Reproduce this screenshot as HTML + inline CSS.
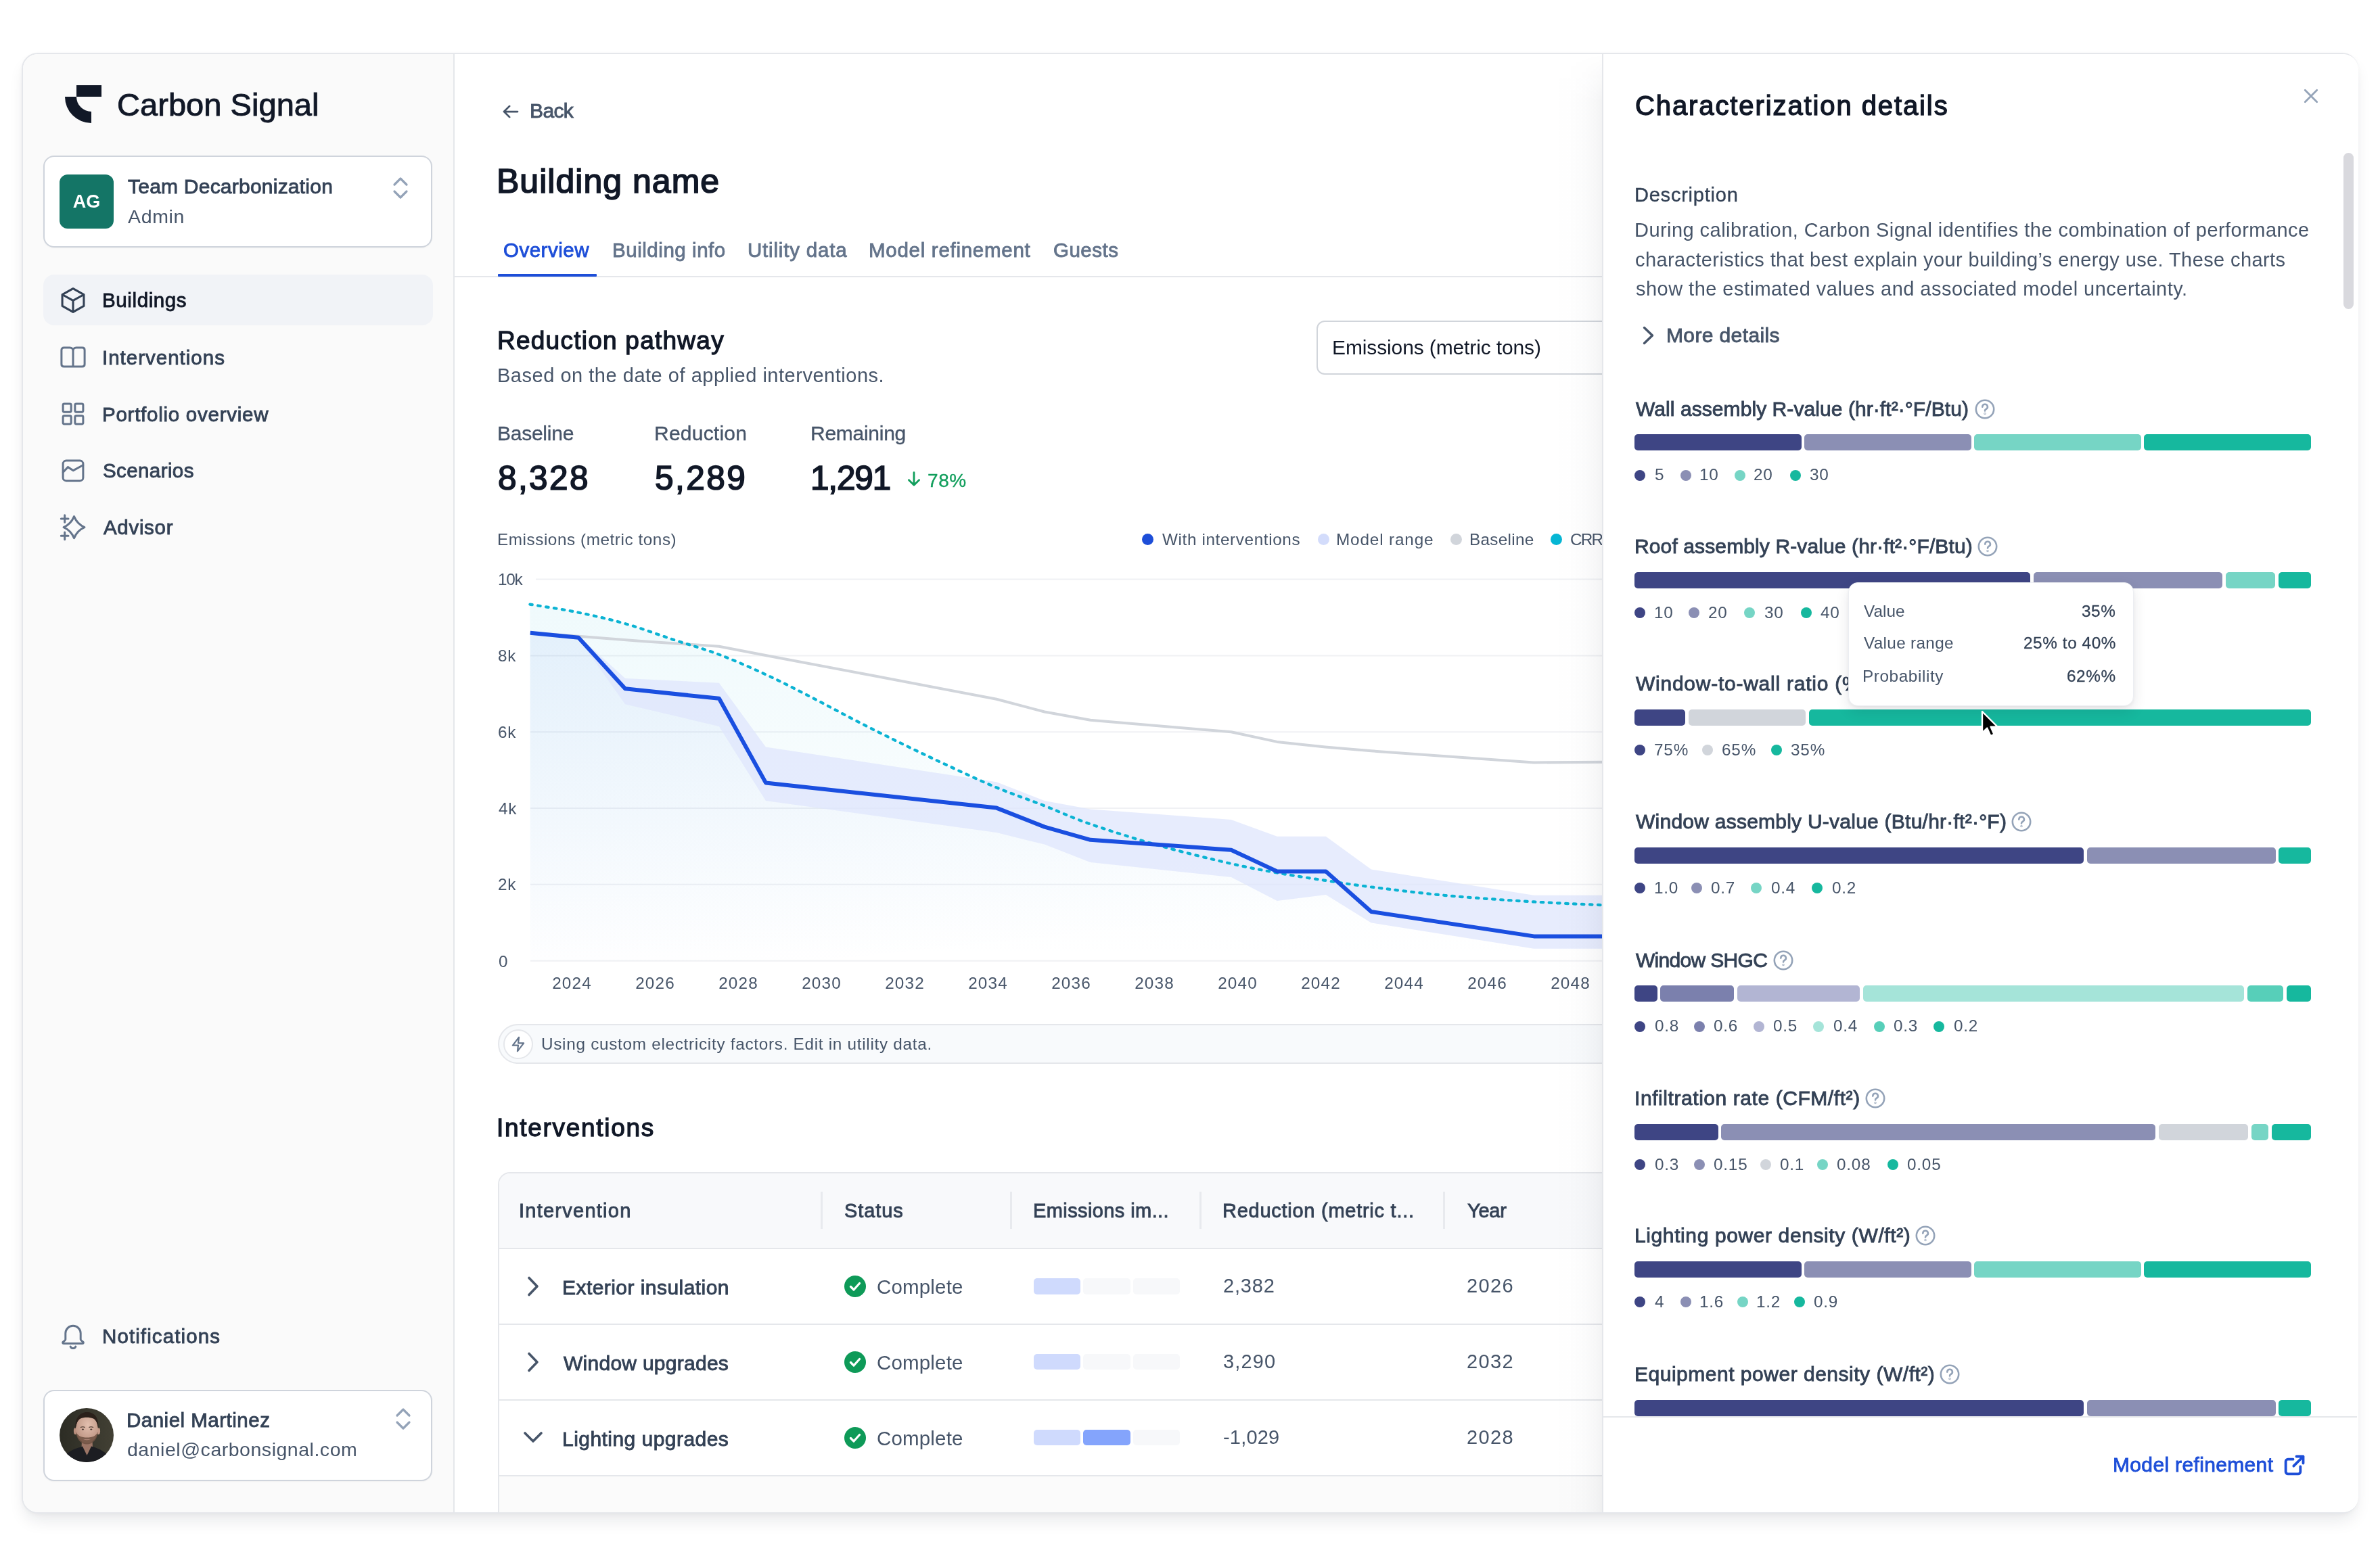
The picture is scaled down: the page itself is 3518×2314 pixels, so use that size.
<!DOCTYPE html><html><head><meta charset="utf-8"><title>Carbon Signal</title><style>
html,body{margin:0;padding:0;background:#fff;}
body{width:3518px;height:2314px;position:relative;overflow:hidden;font-family:"Liberation Sans", Arial, sans-serif;}
.t{position:absolute;white-space:nowrap;will-change:transform;}
@media (max-width:2000px){html{zoom:0.5;}}
</style></head><body>
<div style="position:absolute;left:32px;top:78px;width:3450px;height:2156px;border:2px solid #e5e7eb;border-radius:24px;background:#fff;box-shadow:0 14px 26px -6px rgba(15,23,42,0.11),0 2px 6px rgba(15,23,42,0.03);"></div>
<div style="position:absolute;left:34px;top:80px;width:636px;height:2156px;background:#fafafa;border-right:2px solid #e5e7eb;border-radius:22px 0 0 22px;"></div>
<svg style="position:absolute;left:0;top:0" width="200" height="200" viewBox="0 0 200 200"><path fill="#111827" d="M96 143 A39 39 0 0 0 135 182 L135 165 A22 22 0 0 1 113 143 Z M113 126 H150 V143 H113 Z"/></svg>
<div style="position:absolute;left:64px;top:230px;width:571px;height:132px;border:2px solid #cfd4dc;border-radius:16px;background:#fff;box-shadow:0 1px 2px rgba(0,0,0,0.04);"></div>
<div style="position:absolute;left:88px;top:258px;width:80px;height:80px;border-radius:12px;background:#147566;"></div>
<svg style="position:absolute;left:578px;top:258px" width="28" height="40" viewBox="0 0 28 40"><path d="M5 15 L14 6 L23 15 M5 25 L14 34 L23 25" fill="none" stroke="#94a3b8" stroke-width="3.2" stroke-linecap="round" stroke-linejoin="round"/></svg>
<div style="position:absolute;left:64px;top:406px;width:576px;height:75px;border-radius:16px;background:#f1f3f7;"></div>
<svg style="position:absolute;left:87px;top:423px" width="42" height="42" viewBox="0 0 24 24" fill="none" stroke="#334155" stroke-width="1.75" stroke-linecap="round" stroke-linejoin="round"><path d="M12 2.1 L21.1 7.2 V16.8 L12 21.9 L2.9 16.8 V7.2 Z"/><path d="M3.1 7.3 L12 12.2 L20.9 7.3 M12 12.2 V21.7"/></svg>
<svg style="position:absolute;left:89px;top:509px" width="38" height="38" viewBox="0 0 24 24" fill="none" stroke="#64748b" stroke-width="1.9" stroke-linecap="round" stroke-linejoin="round"><path d="M12 6.2 C12 4.4 10.8 3.2 9 3.2 H3.4 C2.1 3.2 1.2 4.1 1.2 5.4 V18.6 C1.2 19.9 2.1 20.8 3.4 20.8 H20.6 C21.9 20.8 22.8 19.9 22.8 18.6 V5.4 C22.8 4.1 21.9 3.2 20.6 3.2 H15 C13.2 3.2 12 4.4 12 6.2 V20.6"/></svg>
<svg style="position:absolute;left:89px;top:593px" width="38" height="38" viewBox="0 0 24 24" fill="none" stroke="#64748b" stroke-width="1.9" stroke-linecap="round" stroke-linejoin="round"><rect x="2.6" y="2.6" width="7.6" height="7.6" rx="1.2"/><rect x="13.8" y="2.6" width="7.6" height="7.6" rx="1.2"/><rect x="2.6" y="13.8" width="7.6" height="7.6" rx="1.2"/><rect x="13.8" y="13.8" width="7.6" height="7.6" rx="1.2"/></svg>
<svg style="position:absolute;left:89px;top:677px" width="38" height="38" viewBox="0 0 24 24" fill="none" stroke="#64748b" stroke-width="1.9" stroke-linecap="round" stroke-linejoin="round"><rect x="2.6" y="2.6" width="18.8" height="18.8" rx="3"/><path d="M2.7 13.4 L7.2 8.6 L12.2 11.8 L21.3 6.8"/></svg>
<svg style="position:absolute;left:88px;top:760px" width="40" height="40" viewBox="0 0 24 24" fill="none" stroke="#64748b" stroke-width="1.8" stroke-linecap="round" stroke-linejoin="round"><path d="M12.9,2.20 Q15.67,8.92 22.14,11.8 Q15.67,14.68 12.9,21.40 Q10.13,14.68 3.66,11.8 Q10.13,8.92 12.9,2.20 Z"/><path d="M4.6 1.0 V7.4 M1.4 4.2 H7.8 M4.6 16.2 V22.6 M1.4 19.4 H7.8"/></svg>
<svg style="position:absolute;left:87px;top:1954px" width="42" height="42" viewBox="0 0 24 24" fill="none" stroke="#64748b" stroke-width="1.7" stroke-linecap="round" stroke-linejoin="round"><path d="M5.6 15.2 V10 A6.4 6.4 0 0 1 18.4 10 V15.2 C18.4 16.2 20 16.6 20.6 17.4 C21 18 20.6 18.6 19.8 18.6 H4.2 C3.4 18.6 3 18 3.4 17.4 C4 16.6 5.6 16.2 5.6 15.2 Z"/><path d="M9.8 21.2 A2.4 2.4 0 0 0 14.2 21.2"/></svg>
<div style="position:absolute;left:64px;top:2055px;width:571px;height:131px;border:2px solid #cfd4dc;border-radius:16px;background:#fff;box-shadow:0 1px 2px rgba(0,0,0,0.04);"></div>
<svg style="position:absolute;left:88px;top:2082px" width="80" height="80" viewBox="0 0 80 80">
<defs><clipPath id="avc"><circle cx="40" cy="40" r="40"/></clipPath><linearGradient id="avbg" x1="0" y1="0" x2="1" y2="0"><stop offset="0" stop-color="#2c2c24"/><stop offset="1" stop-color="#424034"/></linearGradient>
<radialGradient id="skin" cx="0.55" cy="0.35" r="0.7"><stop offset="0" stop-color="#e2bfae"/><stop offset="1" stop-color="#b88e7c"/></radialGradient></defs>
<g clip-path="url(#avc)"><rect width="80" height="80" fill="url(#avbg)"/>
<path d="M33 46 L32.5 60 L40.5 70 L49 60 L48.5 46 Z" fill="#9c7566"/>
<path d="M6 80 L9 70 C14 63 23 60 30 58 L34 56.5 L40.5 70 L47 56.5 L52 58 C60 61 68 65 72 71 L76 80 Z" fill="#1c1d22"/>
<ellipse cx="23.5" cy="34" rx="2.6" ry="5" fill="#b98f7d"/><ellipse cx="57.5" cy="34" rx="2.6" ry="5" fill="#c49a88"/>
<ellipse cx="40.5" cy="31" rx="16.5" ry="20.5" fill="url(#skin)"/>
<path d="M24.3 35 C24.8 46 32 53.5 40.5 53.5 C49 53.5 56.2 46 56.7 35 C54 41.5 48.5 43.5 40.5 43.5 C32.5 43.5 27 41.5 24.3 35 Z" fill="#6f5142" opacity="0.85"/>
<path d="M34.5 45.8 Q40.5 48.5 46.5 45.8 Q40.5 47 34.5 45.8 Z" fill="#c99a8c"/>
<path d="M23.6 31 C22 15 30 6 40.5 6 C51 6 58.5 13 57.2 31 C56 23 54.5 17.5 50 15.5 C44 13 36 13 31 15.5 C26.5 17.5 25 23 23.6 31 Z" fill="#2a201a"/>
<path d="M31 28.5 Q34.5 27 37.5 28.5 M43.5 28.5 Q46.5 27 50 28.5" stroke="#3a2a22" stroke-width="1.2" fill="none"/>
<ellipse cx="34.4" cy="31.5" rx="1.6" ry="0.9" fill="#4b3a33"/><ellipse cx="46.8" cy="31.5" rx="1.6" ry="0.9" fill="#4b3a33"/>
</g></svg>
<svg style="position:absolute;left:582px;top:2078px" width="28" height="40" viewBox="0 0 28 40"><path d="M5 15 L14 6 L23 15 M5 25 L14 34 L23 25" fill="none" stroke="#94a3b8" stroke-width="3.2" stroke-linecap="round" stroke-linejoin="round"/></svg>
<svg style="position:absolute;left:740px;top:150px" width="30" height="30" viewBox="0 0 24 24" fill="none" stroke="#475569" stroke-width="2.2" stroke-linecap="round" stroke-linejoin="round"><path d="M20 12 H4 M10.5 5.5 L4 12 L10.5 18.5"/></svg>
<div style="position:absolute;left:672px;top:408px;width:1700px;height:2px;background:#e5e7eb;"></div>
<div style="position:absolute;left:736px;top:405px;width:146px;height:4px;background:#1d4ed8;border-radius:1px;"></div>
<div style="position:absolute;left:1946px;top:474px;width:600px;height:76px;border:2px solid #d1d5db;border-radius:12px;background:#fff;"></div>
<svg style="position:absolute;left:1337px;top:694px" width="28" height="28" viewBox="0 0 24 24" fill="none" stroke="#119e5c" stroke-width="2.4" stroke-linecap="round" stroke-linejoin="round"><path d="M12 4 V20 M5.5 13.5 L12 20 L18.5 13.5"/></svg>
<div style="position:absolute;left:1687.5px;top:788.5px;width:17px;height:17px;border-radius:50%;background:#1d4ed8;"></div>
<div style="position:absolute;left:1947.5px;top:788.5px;width:17px;height:17px;border-radius:50%;background:#d3dcfb;"></div>
<div style="position:absolute;left:2143.5px;top:788.5px;width:17px;height:17px;border-radius:50%;background:#d1d5db;"></div>
<div style="position:absolute;left:2291.5px;top:788.5px;width:17px;height:17px;border-radius:50%;background:#06b6d4;"></div>
<svg style="position:absolute;left:672px;top:800px" width="1700" height="700" viewBox="672 800 1700 700">
<defs>
<linearGradient id="gb" x1="0" y1="0" x2="0.35" y2="1"><stop offset="0" stop-color="#3b6fe8" stop-opacity="0.075"/><stop offset="1" stop-color="#3b6fe8" stop-opacity="0.0"/></linearGradient>
<linearGradient id="gc" x1="0" y1="0" x2="0" y2="1"><stop offset="0" stop-color="#22b8d8" stop-opacity="0.07"/><stop offset="1" stop-color="#22b8d8" stop-opacity="0.0"/></linearGradient>
</defs>
<line x1="792" x2="2372" y1="856.5" y2="856.5" stroke="#f0f1f4" stroke-width="2"/><line x1="784" x2="2372" y1="969.6" y2="969.6" stroke="#f0f1f4" stroke-width="2"/><line x1="784" x2="2372" y1="1082.3" y2="1082.3" stroke="#f0f1f4" stroke-width="2"/><line x1="784" x2="2372" y1="1195" y2="1195" stroke="#f0f1f4" stroke-width="2"/><line x1="784" x2="2372" y1="1307.7" y2="1307.7" stroke="#f0f1f4" stroke-width="2"/><line x1="784" x2="2372" y1="1420.8" y2="1420.8" stroke="#f0f1f4" stroke-width="2"/>
<path d="M783.4,893.6 C795.2,895.6 830.5,900.6 854.0,905.4 C877.5,910.2 901.0,915.5 924.5,922.2 C948.0,928.9 972.1,938.1 995.1,945.7 C1018.1,953.3 1039.4,958.9 1062.4,967.6 C1085.4,976.3 1110.0,987.2 1133.0,997.8 C1156.0,1008.4 1177.8,1019.9 1200.2,1031.4 C1222.6,1042.9 1245.0,1055.2 1267.4,1066.7 C1289.8,1078.2 1312.2,1089.4 1334.6,1100.3 C1357.0,1111.2 1378.8,1121.6 1401.8,1132.3 C1424.8,1143.0 1448.9,1154.4 1472.4,1164.2 C1495.9,1174.0 1519.8,1182.0 1543.0,1191.1 C1566.2,1200.1 1583.4,1208.7 1611.8,1218.5 C1640.2,1228.3 1678.6,1240.5 1713.3,1250.2 C1748.0,1260.0 1790.8,1270.3 1819.9,1277.0 C1849.0,1283.7 1864.5,1286.3 1887.8,1290.5 C1911.1,1294.7 1936.7,1298.5 1959.9,1302.0 C1983.1,1305.5 1997.7,1307.9 2026.9,1311.5 C2056.1,1315.1 2094.9,1320.1 2135.0,1323.8 C2175.1,1327.5 2227.8,1331.0 2267.3,1333.4 C2306.8,1335.8 2354.6,1337.6 2372.0,1338.4 L2372,1420.8 L783.8,1420.8 Z" fill="url(#gc)"/>
<path d="M783.8,935.8 L855.1,942.7 L924.1,1018.3 L1062.9,1032.8 L1131.9,1157.4 L1473.0,1194.6 L1544.0,1222.6 L1611.8,1241.8 L1819.9,1256.7 L1887.8,1288.5 L1959.9,1288.5 L2026.9,1348.0 L2267.3,1384.4 L2372.0,1384.4 L2372,1420.8 L783.8,1420.8 Z" fill="url(#gb)"/>
<path d="M855.1,940.4 L924.1,1003.0 L1062.9,1009.8 L1131.9,1104.5 L1473.0,1156.3 L1544.0,1184.0 L1611.8,1196.5 L1819.9,1211.9 L1887.8,1236.8 L1959.9,1236.8 L2026.9,1285.5 L2267.3,1323.8 L2372.0,1323.8 L2372.0,1402.8 L2267.3,1402.8 L2026.9,1364.4 L1959.9,1323.0 L1887.8,1331.9 L1819.9,1297.0 L1611.8,1275.1 L1544.0,1248.6 L1473.0,1231.0 L1131.9,1183.9 L1062.9,1073.9 L924.1,1041.3 L855.1,944.0 Z" fill="#dfe6fc" fill-opacity="0.75"/>
<polyline points="783.8,935.5 855.1,940.7 948.0,948.0 1062.9,955.8 1133.0,969.2 1284.2,997.8 1473.0,1033.8 1544.0,1052.5 1611.8,1064.7 1819.9,1082.3 1887.8,1096.9 1958.7,1104.5 2026.9,1110.3 2267.3,1127.5 2372.0,1126.8" fill="none" stroke="#d1d5db" stroke-width="4" stroke-linejoin="round"/>
<path d="M783.4,893.6 C795.2,895.6 830.5,900.6 854.0,905.4 C877.5,910.2 901.0,915.5 924.5,922.2 C948.0,928.9 972.1,938.1 995.1,945.7 C1018.1,953.3 1039.4,958.9 1062.4,967.6 C1085.4,976.3 1110.0,987.2 1133.0,997.8 C1156.0,1008.4 1177.8,1019.9 1200.2,1031.4 C1222.6,1042.9 1245.0,1055.2 1267.4,1066.7 C1289.8,1078.2 1312.2,1089.4 1334.6,1100.3 C1357.0,1111.2 1378.8,1121.6 1401.8,1132.3 C1424.8,1143.0 1448.9,1154.4 1472.4,1164.2 C1495.9,1174.0 1519.8,1182.0 1543.0,1191.1 C1566.2,1200.1 1583.4,1208.7 1611.8,1218.5 C1640.2,1228.3 1678.6,1240.5 1713.3,1250.2 C1748.0,1260.0 1790.8,1270.3 1819.9,1277.0 C1849.0,1283.7 1864.5,1286.3 1887.8,1290.5 C1911.1,1294.7 1936.7,1298.5 1959.9,1302.0 C1983.1,1305.5 1997.7,1307.9 2026.9,1311.5 C2056.1,1315.1 2094.9,1320.1 2135.0,1323.8 C2175.1,1327.5 2227.8,1331.0 2267.3,1333.4 C2306.8,1335.8 2354.6,1337.6 2372.0,1338.4" fill="none" stroke="#0bb3d3" stroke-width="4.2" stroke-dasharray="3.6 8.4" stroke-linecap="round"/>
<polyline points="783.8,935.8 855.1,942.7 924.1,1018.3 1062.9,1032.8 1131.9,1157.4 1473.0,1194.6 1544.0,1222.6 1611.8,1241.8 1819.9,1256.7 1887.8,1288.5 1959.9,1288.5 2026.9,1348.0 2267.3,1384.4 2372.0,1384.4" fill="none" stroke="#1a4fe0" stroke-width="6" stroke-linejoin="round"/>
</svg>
<div style="position:absolute;left:736px;top:1514px;width:1700px;height:55px;border:2px solid #e5e7eb;border-radius:30px;background:#f8fafc;"></div>
<div style="position:absolute;left:744px;top:1522px;width:40px;height:40px;border:2px solid #e5e7eb;border-radius:50%;background:#fff;"></div>
<svg style="position:absolute;left:753px;top:1531px" width="26" height="26" viewBox="0 0 24 24" fill="none" stroke="#64748b" stroke-width="2" stroke-linecap="round" stroke-linejoin="round"><path d="M13 2.5 L4.5 13.5 H12 L11 21.5 L19.5 10.5 H12 Z"/></svg>
<div style="position:absolute;left:736px;top:1733px;width:1700px;height:501px;border:2px solid #e5e7eb;border-bottom:none;border-radius:18px 18px 0 0;background:#fff;overflow:hidden;"><div style="position:absolute;left:0;top:0;right:0;height:110px;background:#f8f9fb;border-bottom:2px solid #e5e7eb;"></div><div style="position:absolute;left:0;top:222px;right:0;height:2px;background:#e5e7eb;"></div><div style="position:absolute;left:0;top:334px;right:0;height:2px;background:#e5e7eb;"></div><div style="position:absolute;left:0;top:446px;right:0;height:200px;background:#fbfbfb;border-top:2px solid #e5e7eb;"></div></div>
<div style="position:absolute;left:1212.5px;top:1762px;width:3px;height:55px;background:#e8eaee;"></div>
<div style="position:absolute;left:1492.5px;top:1762px;width:3px;height:55px;background:#e8eaee;"></div>
<div style="position:absolute;left:1772.5px;top:1762px;width:3px;height:55px;background:#e8eaee;"></div>
<div style="position:absolute;left:2132.5px;top:1762px;width:3px;height:55px;background:#e8eaee;"></div>
<svg style="position:absolute;left:770px;top:1881.9px" width="36" height="40" viewBox="0 0 36 40"><path d="M12 7.5 L24 20 L12 32.5" fill="none" stroke="#475569" stroke-width="3.6" stroke-linecap="round" stroke-linejoin="round"/></svg>
<svg style="position:absolute;left:1247.8px;top:1885.9px" width="32" height="32" viewBox="0 0 32 32"><circle cx="16" cy="16" r="16" fill="#0e9a58"/><path d="M9.5 16.5 L14 21 L22.5 11.5" fill="none" stroke="#fff" stroke-width="3.2" stroke-linecap="round" stroke-linejoin="round"/></svg>
<div style="position:absolute;left:1528px;top:1890.2px;width:69.2px;height:23.4px;border-radius:5px;background:#cfdafd;"></div>
<div style="position:absolute;left:1601.4px;top:1890.2px;width:69.2px;height:23.4px;border-radius:5px;background:#f7f8fa;"></div>
<div style="position:absolute;left:1675.1px;top:1890.2px;width:68.5px;height:23.4px;border-radius:5px;background:#f7f8fa;"></div>
<svg style="position:absolute;left:770px;top:1993.7px" width="36" height="40" viewBox="0 0 36 40"><path d="M12 7.5 L24 20 L12 32.5" fill="none" stroke="#475569" stroke-width="3.6" stroke-linecap="round" stroke-linejoin="round"/></svg>
<svg style="position:absolute;left:1247.8px;top:1997.7px" width="32" height="32" viewBox="0 0 32 32"><circle cx="16" cy="16" r="16" fill="#0e9a58"/><path d="M9.5 16.5 L14 21 L22.5 11.5" fill="none" stroke="#fff" stroke-width="3.2" stroke-linecap="round" stroke-linejoin="round"/></svg>
<div style="position:absolute;left:1528px;top:2002.0px;width:69.2px;height:23.4px;border-radius:5px;background:#cfdafd;"></div>
<div style="position:absolute;left:1601.4px;top:2002.0px;width:69.2px;height:23.4px;border-radius:5px;background:#f7f8fa;"></div>
<div style="position:absolute;left:1675.1px;top:2002.0px;width:68.5px;height:23.4px;border-radius:5px;background:#f7f8fa;"></div>
<svg style="position:absolute;left:770px;top:2105.8px" width="36" height="40" viewBox="0 0 36 40"><path d="M6 13 L18 25 L30 13" fill="none" stroke="#475569" stroke-width="3.6" stroke-linecap="round" stroke-linejoin="round"/></svg>
<svg style="position:absolute;left:1247.8px;top:2109.8px" width="32" height="32" viewBox="0 0 32 32"><circle cx="16" cy="16" r="16" fill="#0e9a58"/><path d="M9.5 16.5 L14 21 L22.5 11.5" fill="none" stroke="#fff" stroke-width="3.2" stroke-linecap="round" stroke-linejoin="round"/></svg>
<div style="position:absolute;left:1528px;top:2114.1000000000004px;width:69.2px;height:23.4px;border-radius:5px;background:#cfdafd;"></div>
<div style="position:absolute;left:1601.4px;top:2114.1000000000004px;width:69.2px;height:23.4px;border-radius:5px;background:#84a4fc;"></div>
<div style="position:absolute;left:1675.1px;top:2114.1000000000004px;width:68.5px;height:23.4px;border-radius:5px;background:#f7f8fa;"></div>
<div class="t" style="top:130.81px;font-size:47px;line-height:47px;font-weight:400;color:#111827;-webkit-text-stroke:0.56px #111827;letter-spacing:0.053px;left:173.47px;-webkit-text-stroke:0.95px #111827;">Carbon Signal</div>
<div class="t" style="top:284.84px;font-size:27px;line-height:27px;font-weight:800;color:#fff;left:-372.00px;width:1000px;text-align:center;">AG</div>
<div class="t" style="top:261.41px;font-size:30px;line-height:30px;font-weight:400;color:#334155;-webkit-text-stroke:0.87px #334155;letter-spacing:0.228px;left:189.44px;">Team Decarbonization</div>
<div class="t" style="top:305.57px;font-size:28.5px;line-height:28.5px;font-weight:400;color:#475569;letter-spacing:0.642px;left:189.00px;">Admin</div>
<div class="t" style="top:429.03px;font-size:29.5px;line-height:29.5px;font-weight:400;color:#111827;-webkit-text-stroke:0.86px #111827;letter-spacing:0.609px;left:151.43px;">Buildings</div>
<div class="t" style="top:513.83px;font-size:29.5px;line-height:29.5px;font-weight:400;color:#334155;-webkit-text-stroke:0.86px #334155;letter-spacing:0.999px;left:151.43px;">Interventions</div>
<div class="t" style="top:597.63px;font-size:29.5px;line-height:29.5px;font-weight:400;color:#334155;-webkit-text-stroke:0.86px #334155;letter-spacing:0.743px;left:151.43px;">Portfolio overview</div>
<div class="t" style="top:680.93px;font-size:29.5px;line-height:29.5px;font-weight:400;color:#334155;-webkit-text-stroke:0.86px #334155;letter-spacing:0.401px;left:152.43px;">Scenarios</div>
<div class="t" style="top:764.73px;font-size:29.5px;line-height:29.5px;font-weight:400;color:#334155;-webkit-text-stroke:0.86px #334155;letter-spacing:0.683px;left:153.43px;">Advisor</div>
<div class="t" style="top:1961.23px;font-size:29.5px;line-height:29.5px;font-weight:400;color:#334155;-webkit-text-stroke:0.86px #334155;letter-spacing:1.101px;left:150.83px;">Notifications</div>
<div class="t" style="top:2085.33px;font-size:29.5px;line-height:29.5px;font-weight:400;color:#334155;-webkit-text-stroke:0.86px #334155;letter-spacing:0.496px;left:187.43px;">Daniel Martinez</div>
<div class="t" style="top:2129.37px;font-size:28.5px;line-height:28.5px;font-weight:400;color:#475569;letter-spacing:0.517px;left:188.00px;">daniel@carbonsignal.com</div>
<div class="t" style="top:149.20px;font-size:30px;line-height:30px;font-weight:400;color:#475569;-webkit-text-stroke:0.87px #475569;letter-spacing:-0.621px;left:783.23px;">Back</div>
<div class="t" style="top:243.18px;font-size:50px;line-height:50px;font-weight:400;color:#111827;-webkit-text-stroke:1.70px #111827;letter-spacing:1.020px;left:733.85px;">Building name</div>
<div class="t" style="top:355.03px;font-size:29.5px;line-height:29.5px;font-weight:400;color:#1d4ed8;-webkit-text-stroke:0.86px #1d4ed8;letter-spacing:0.500px;left:744.03px;">Overview</div>
<div class="t" style="top:355.03px;font-size:29.5px;line-height:29.5px;font-weight:400;color:#64748b;-webkit-text-stroke:0.86px #64748b;letter-spacing:0.544px;left:905.43px;">Building info</div>
<div class="t" style="top:355.03px;font-size:29.5px;line-height:29.5px;font-weight:400;color:#64748b;-webkit-text-stroke:0.86px #64748b;letter-spacing:0.802px;left:1104.93px;">Utility data</div>
<div class="t" style="top:355.03px;font-size:29.5px;line-height:29.5px;font-weight:400;color:#64748b;-webkit-text-stroke:0.86px #64748b;letter-spacing:0.721px;left:1284.43px;">Model refinement</div>
<div class="t" style="top:355.03px;font-size:29.5px;line-height:29.5px;font-weight:400;color:#64748b;-webkit-text-stroke:0.86px #64748b;letter-spacing:0.487px;left:1557.43px;">Guests</div>
<div class="t" style="top:485.28px;font-size:37px;line-height:37px;font-weight:400;color:#111827;-webkit-text-stroke:1.26px #111827;letter-spacing:1.246px;left:734.63px;">Reduction pathway</div>
<div class="t" style="top:541.45px;font-size:29px;line-height:29px;font-weight:400;color:#475569;letter-spacing:0.521px;left:735.00px;">Based on the date of applied interventions.</div>
<div class="t" style="top:498.61px;font-size:30px;line-height:30px;font-weight:400;color:#111827;letter-spacing:-0.124px;left:1969.00px;">Emissions (metric tons)</div>
<div class="t" style="top:625.61px;font-size:30px;line-height:30px;font-weight:400;color:#475569;-webkit-text-stroke:0.36px #475569;letter-spacing:-0.251px;left:735.18px;">Baseline</div>
<div class="t" style="top:625.61px;font-size:30px;line-height:30px;font-weight:400;color:#475569;-webkit-text-stroke:0.36px #475569;letter-spacing:0.230px;left:966.78px;">Reduction</div>
<div class="t" style="top:625.61px;font-size:30px;line-height:30px;font-weight:400;color:#475569;-webkit-text-stroke:0.36px #475569;letter-spacing:-0.273px;left:1198.18px;">Remaining</div>
<div class="t" style="top:681.70px;font-size:49.5px;line-height:49.5px;font-weight:400;color:#111827;-webkit-text-stroke:1.68px #111827;letter-spacing:2.395px;left:735.84px;">8,328</div>
<div class="t" style="top:681.70px;font-size:49.5px;line-height:49.5px;font-weight:400;color:#111827;-webkit-text-stroke:1.68px #111827;letter-spacing:2.470px;left:968.44px;">5,289</div>
<div class="t" style="top:681.70px;font-size:49.5px;line-height:49.5px;font-weight:400;color:#111827;-webkit-text-stroke:1.68px #111827;letter-spacing:-1.155px;left:1197.84px;">1,291</div>
<div class="t" style="top:696.80px;font-size:28px;line-height:28px;font-weight:400;color:#119e5c;-webkit-text-stroke:0.34px #119e5c;letter-spacing:0.608px;left:1370.57px;">78%</div>
<div class="t" style="top:785.73px;font-size:24.3px;line-height:24.3px;font-weight:400;color:#475569;letter-spacing:0.556px;left:735.00px;">Emissions (metric tons)</div>
<div class="t" style="top:785.73px;font-size:24.3px;line-height:24.3px;font-weight:400;color:#475569;letter-spacing:0.614px;left:1718.00px;">With interventions</div>
<div class="t" style="top:785.73px;font-size:24.3px;line-height:24.3px;font-weight:400;color:#475569;letter-spacing:0.844px;left:1975.00px;">Model range</div>
<div class="t" style="top:785.73px;font-size:24.3px;line-height:24.3px;font-weight:400;color:#475569;letter-spacing:0.302px;left:2171.60px;">Baseline</div>
<div class="t" style="top:785.73px;font-size:24.3px;line-height:24.3px;font-weight:400;color:#475569;letter-spacing:-1.796px;left:2320.90px;">CRR</div>
<div class="t" style="top:845.23px;font-size:24.3px;line-height:24.3px;font-weight:400;color:#475569;letter-spacing:-1.213px;left:736.00px;">10k</div>
<div class="t" style="top:958.33px;font-size:24.3px;line-height:24.3px;font-weight:400;color:#475569;left:736.00px;letter-spacing:0.8px;">8k</div>
<div class="t" style="top:1071.03px;font-size:24.3px;line-height:24.3px;font-weight:400;color:#475569;left:736.00px;letter-spacing:0.8px;">6k</div>
<div class="t" style="top:1183.73px;font-size:24.3px;line-height:24.3px;font-weight:400;color:#475569;left:737.00px;letter-spacing:0.8px;">4k</div>
<div class="t" style="top:1296.43px;font-size:24.3px;line-height:24.3px;font-weight:400;color:#475569;left:736.00px;letter-spacing:0.8px;">2k</div>
<div class="t" style="top:1409.53px;font-size:24.3px;line-height:24.3px;font-weight:400;color:#475569;left:737.00px;letter-spacing:0.8px;">0</div>
<div class="t" style="top:1441.93px;font-size:24.3px;line-height:24.3px;font-weight:400;color:#475569;left:345.00px;width:1000px;text-align:center;letter-spacing:1.2px;text-indent:1.2px;">2024</div>
<div class="t" style="top:1441.93px;font-size:24.3px;line-height:24.3px;font-weight:400;color:#475569;left:468.04px;width:1000px;text-align:center;letter-spacing:1.2px;text-indent:1.2px;">2026</div>
<div class="t" style="top:1441.93px;font-size:24.3px;line-height:24.3px;font-weight:400;color:#475569;left:591.08px;width:1000px;text-align:center;letter-spacing:1.2px;text-indent:1.2px;">2028</div>
<div class="t" style="top:1441.93px;font-size:24.3px;line-height:24.3px;font-weight:400;color:#475569;left:714.12px;width:1000px;text-align:center;letter-spacing:1.2px;text-indent:1.2px;">2030</div>
<div class="t" style="top:1441.93px;font-size:24.3px;line-height:24.3px;font-weight:400;color:#475569;left:837.16px;width:1000px;text-align:center;letter-spacing:1.2px;text-indent:1.2px;">2032</div>
<div class="t" style="top:1441.93px;font-size:24.3px;line-height:24.3px;font-weight:400;color:#475569;left:960.20px;width:1000px;text-align:center;letter-spacing:1.2px;text-indent:1.2px;">2034</div>
<div class="t" style="top:1441.93px;font-size:24.3px;line-height:24.3px;font-weight:400;color:#475569;left:1083.24px;width:1000px;text-align:center;letter-spacing:1.2px;text-indent:1.2px;">2036</div>
<div class="t" style="top:1441.93px;font-size:24.3px;line-height:24.3px;font-weight:400;color:#475569;left:1206.28px;width:1000px;text-align:center;letter-spacing:1.2px;text-indent:1.2px;">2038</div>
<div class="t" style="top:1441.93px;font-size:24.3px;line-height:24.3px;font-weight:400;color:#475569;left:1329.32px;width:1000px;text-align:center;letter-spacing:1.2px;text-indent:1.2px;">2040</div>
<div class="t" style="top:1441.93px;font-size:24.3px;line-height:24.3px;font-weight:400;color:#475569;left:1452.36px;width:1000px;text-align:center;letter-spacing:1.2px;text-indent:1.2px;">2042</div>
<div class="t" style="top:1441.93px;font-size:24.3px;line-height:24.3px;font-weight:400;color:#475569;left:1575.40px;width:1000px;text-align:center;letter-spacing:1.2px;text-indent:1.2px;">2044</div>
<div class="t" style="top:1441.93px;font-size:24.3px;line-height:24.3px;font-weight:400;color:#475569;left:1698.44px;width:1000px;text-align:center;letter-spacing:1.2px;text-indent:1.2px;">2046</div>
<div class="t" style="top:1441.93px;font-size:24.3px;line-height:24.3px;font-weight:400;color:#475569;left:1821.48px;width:1000px;text-align:center;letter-spacing:1.2px;text-indent:1.2px;">2048</div>
<div class="t" style="top:1531.93px;font-size:24.3px;line-height:24.3px;font-weight:400;color:#475569;letter-spacing:0.712px;left:799.50px;">Using custom electricity factors. Edit in utility data.</div>
<div class="t" style="top:1649.28px;font-size:37px;line-height:37px;font-weight:400;color:#111827;-webkit-text-stroke:1.26px #111827;letter-spacing:1.699px;left:734.23px;">Interventions</div>
<div class="t" style="top:1775.85px;font-size:29px;line-height:29px;font-weight:400;color:#334155;-webkit-text-stroke:0.84px #334155;letter-spacing:1.250px;left:767.02px;">Intervention</div>
<div class="t" style="top:1775.85px;font-size:29px;line-height:29px;font-weight:400;color:#334155;-webkit-text-stroke:0.84px #334155;letter-spacing:0.929px;left:1248.22px;">Status</div>
<div class="t" style="top:1775.85px;font-size:29px;line-height:29px;font-weight:400;color:#334155;-webkit-text-stroke:0.84px #334155;letter-spacing:0.403px;left:1526.82px;">Emissions im...</div>
<div class="t" style="top:1775.85px;font-size:29px;line-height:29px;font-weight:400;color:#334155;-webkit-text-stroke:0.84px #334155;letter-spacing:0.738px;left:1807.42px;">Reduction (metric t...</div>
<div class="t" style="top:1775.85px;font-size:29px;line-height:29px;font-weight:400;color:#334155;-webkit-text-stroke:0.84px #334155;letter-spacing:-0.259px;left:2169.42px;">Year</div>
<div class="t" style="top:1889.11px;font-size:30px;line-height:30px;font-weight:400;color:#334155;-webkit-text-stroke:0.87px #334155;letter-spacing:0.448px;left:830.93px;">Exterior insulation</div>
<div class="t" style="top:1887.93px;font-size:29.5px;line-height:29.5px;font-weight:400;color:#475569;letter-spacing:0.165px;left:1295.70px;">Complete</div>
<div class="t" style="top:1887.45px;font-size:29px;line-height:29px;font-weight:400;color:#475569;letter-spacing:0.814px;left:1808.00px;">2,382</div>
<div class="t" style="top:1887.45px;font-size:29px;line-height:29px;font-weight:400;color:#475569;letter-spacing:1.372px;left:2168.00px;">2026</div>
<div class="t" style="top:2000.90px;font-size:30px;line-height:30px;font-weight:400;color:#334155;-webkit-text-stroke:0.87px #334155;letter-spacing:0.264px;left:832.93px;">Window upgrades</div>
<div class="t" style="top:1999.73px;font-size:29.5px;line-height:29.5px;font-weight:400;color:#475569;letter-spacing:0.165px;left:1295.70px;">Complete</div>
<div class="t" style="top:1999.25px;font-size:29px;line-height:29px;font-weight:400;color:#475569;letter-spacing:1.139px;left:1808.00px;">3,290</div>
<div class="t" style="top:1999.25px;font-size:29px;line-height:29px;font-weight:400;color:#475569;letter-spacing:1.372px;left:2168.00px;">2032</div>
<div class="t" style="top:2113.01px;font-size:30px;line-height:30px;font-weight:400;color:#334155;-webkit-text-stroke:0.87px #334155;letter-spacing:0.457px;left:830.93px;">Lighting upgrades</div>
<div class="t" style="top:2111.83px;font-size:29.5px;line-height:29.5px;font-weight:400;color:#475569;letter-spacing:0.165px;left:1295.70px;">Complete</div>
<div class="t" style="top:2111.35px;font-size:29px;line-height:29px;font-weight:400;color:#475569;letter-spacing:0.180px;left:1808.00px;">-1,029</div>
<div class="t" style="top:2111.35px;font-size:29px;line-height:29px;font-weight:400;color:#475569;letter-spacing:1.372px;left:2168.00px;">2028</div>
<div style="position:absolute;left:2290px;top:80px;width:80px;height:2156px;background:linear-gradient(to right, rgba(15,23,42,0) 0%, rgba(15,23,42,0.004) 35%, rgba(15,23,42,0.016) 65%, rgba(15,23,42,0.035) 88%, rgba(15,23,42,0.055) 100%);-webkit-mask-image:linear-gradient(to bottom, transparent 0px, #000 70px);mask-image:linear-gradient(to bottom, transparent 0px, #000 70px);"></div>
<div style="position:absolute;left:2368px;top:80px;width:1116px;height:2156px;background:#fff;border-left:2px solid #e5e7eb;border-radius:0 22px 22px 0;"></div>
<svg style="position:absolute;left:3401px;top:127px" width="30" height="30" viewBox="0 0 24 24" fill="none" stroke="#94a3b8" stroke-width="2.2" stroke-linecap="round" stroke-linejoin="round"><path d="M5 5 L19 19 M19 5 L5 19"/></svg>
<div style="position:absolute;left:3464px;top:226px;width:15px;height:231px;border-radius:8px;background:#d9d9de;"></div>
<svg style="position:absolute;left:2420px;top:476px" width="32" height="40" viewBox="0 0 32 40"><path d="M10.5 8.5 L22.5 20 L10.5 31.5" fill="none" stroke="#475569" stroke-width="3.4" stroke-linecap="round" stroke-linejoin="round"/></svg>
<svg style="position:absolute;left:2918px;top:588.5px" width="32" height="32" viewBox="0 0 32 32" fill="none" stroke="#94a3b8" stroke-width="2.6" stroke-linecap="round"><circle cx="16" cy="16" r="13.2"/><path d="M12.3 12.6 A3.8 3.8 0 1 1 17.6 16 C16.5 16.5 16 17.2 16 18.4"/><circle cx="16" cy="22.6" r="0.4" fill="#94a3b8"/></svg>
<div style="position:absolute;left:2416px;top:642.4px;width:246.6px;height:24px;border-radius:5px;background:#3e4584;"></div>
<div style="position:absolute;left:2667px;top:642.4px;width:246.7px;height:24px;border-radius:5px;background:#8b8fb4;"></div>
<div style="position:absolute;left:2918px;top:642.4px;width:246.7px;height:24px;border-radius:5px;background:#76d5c5;"></div>
<div style="position:absolute;left:3169px;top:642.4px;width:246.8px;height:24px;border-radius:5px;background:#16b89e;"></div>
<div style="position:absolute;left:2416.2px;top:694.5px;width:16px;height:16px;border-radius:50%;background:#3e4584;"></div>
<div style="position:absolute;left:2483.9px;top:694.5px;width:16px;height:16px;border-radius:50%;background:#8b8fb4;"></div>
<div style="position:absolute;left:2563.6px;top:694.5px;width:16px;height:16px;border-radius:50%;background:#76d5c5;"></div>
<div style="position:absolute;left:2645.9px;top:694.5px;width:16px;height:16px;border-radius:50%;background:#16b89e;"></div>
<svg style="position:absolute;left:2922px;top:791.9px" width="32" height="32" viewBox="0 0 32 32" fill="none" stroke="#94a3b8" stroke-width="2.6" stroke-linecap="round"><circle cx="16" cy="16" r="13.2"/><path d="M12.3 12.6 A3.8 3.8 0 1 1 17.6 16 C16.5 16.5 16 17.2 16 18.4"/><circle cx="16" cy="22.6" r="0.4" fill="#94a3b8"/></svg>
<div style="position:absolute;left:2416px;top:845.8px;width:585.3px;height:24px;border-radius:5px;background:#3e4584;"></div>
<div style="position:absolute;left:3006px;top:845.8px;width:279.4px;height:24px;border-radius:5px;background:#8b8fb4;"></div>
<div style="position:absolute;left:3290.3px;top:845.8px;width:73.0px;height:24px;border-radius:5px;background:#76d5c5;"></div>
<div style="position:absolute;left:3368px;top:845.8px;width:47.8px;height:24px;border-radius:5px;background:#16b89e;"></div>
<div style="position:absolute;left:2416.2px;top:897.9px;width:16px;height:16px;border-radius:50%;background:#3e4584;"></div>
<div style="position:absolute;left:2496px;top:897.9px;width:16px;height:16px;border-radius:50%;background:#8b8fb4;"></div>
<div style="position:absolute;left:2578.2px;top:897.9px;width:16px;height:16px;border-radius:50%;background:#76d5c5;"></div>
<div style="position:absolute;left:2661.9px;top:897.9px;width:16px;height:16px;border-radius:50%;background:#16b89e;"></div>
<div style="position:absolute;left:2416px;top:1048.6px;width:75.4px;height:24px;border-radius:5px;background:#3e4584;"></div>
<div style="position:absolute;left:2496.2px;top:1048.6px;width:173.2px;height:24px;border-radius:5px;background:#d1d5db;"></div>
<div style="position:absolute;left:2674.3px;top:1048.6px;width:741.5px;height:24px;border-radius:5px;background:#16b89e;"></div>
<div style="position:absolute;left:2416.2px;top:1100.7px;width:16px;height:16px;border-radius:50%;background:#3e4584;"></div>
<div style="position:absolute;left:2516px;top:1100.7px;width:16px;height:16px;border-radius:50%;background:#d1d5db;"></div>
<div style="position:absolute;left:2617.6px;top:1100.7px;width:16px;height:16px;border-radius:50%;background:#16b89e;"></div>
<svg style="position:absolute;left:2971.6px;top:1199.2px" width="32" height="32" viewBox="0 0 32 32" fill="none" stroke="#94a3b8" stroke-width="2.6" stroke-linecap="round"><circle cx="16" cy="16" r="13.2"/><path d="M12.3 12.6 A3.8 3.8 0 1 1 17.6 16 C16.5 16.5 16 17.2 16 18.4"/><circle cx="16" cy="22.6" r="0.4" fill="#94a3b8"/></svg>
<div style="position:absolute;left:2416px;top:1253.1px;width:663.6px;height:24px;border-radius:5px;background:#3e4584;"></div>
<div style="position:absolute;left:3084.5px;top:1253.1px;width:279.3px;height:24px;border-radius:5px;background:#8b8fb4;"></div>
<div style="position:absolute;left:3368.1px;top:1253.1px;width:47.7px;height:24px;border-radius:5px;background:#16b89e;"></div>
<div style="position:absolute;left:2416.2px;top:1305.2px;width:16px;height:16px;border-radius:50%;background:#3e4584;"></div>
<div style="position:absolute;left:2499.9px;top:1305.2px;width:16px;height:16px;border-radius:50%;background:#8b8fb4;"></div>
<div style="position:absolute;left:2588px;top:1305.2px;width:16px;height:16px;border-radius:50%;background:#76d5c5;"></div>
<div style="position:absolute;left:2678px;top:1305.2px;width:16px;height:16px;border-radius:50%;background:#16b89e;"></div>
<svg style="position:absolute;left:2619.9px;top:1403.5px" width="32" height="32" viewBox="0 0 32 32" fill="none" stroke="#94a3b8" stroke-width="2.6" stroke-linecap="round"><circle cx="16" cy="16" r="13.2"/><path d="M12.3 12.6 A3.8 3.8 0 1 1 17.6 16 C16.5 16.5 16 17.2 16 18.4"/><circle cx="16" cy="22.6" r="0.4" fill="#94a3b8"/></svg>
<div style="position:absolute;left:2416px;top:1457.4px;width:33.5px;height:24px;border-radius:5px;background:#3e4584;"></div>
<div style="position:absolute;left:2454.4px;top:1457.4px;width:109.0px;height:24px;border-radius:5px;background:#7b80ad;"></div>
<div style="position:absolute;left:2568.2px;top:1457.4px;width:181.0px;height:24px;border-radius:5px;background:#b2b5d3;"></div>
<div style="position:absolute;left:2754.1px;top:1457.4px;width:563.4px;height:24px;border-radius:5px;background:#a5e4d9;"></div>
<div style="position:absolute;left:3322.4px;top:1457.4px;width:53.0px;height:24px;border-radius:5px;background:#57cfb9;"></div>
<div style="position:absolute;left:3380.3px;top:1457.4px;width:35.5px;height:24px;border-radius:5px;background:#16b89e;"></div>
<div style="position:absolute;left:2416.2px;top:1509.5px;width:16px;height:16px;border-radius:50%;background:#3e4584;"></div>
<div style="position:absolute;left:2503.8px;top:1509.5px;width:16px;height:16px;border-radius:50%;background:#7b80ad;"></div>
<div style="position:absolute;left:2591.9px;top:1509.5px;width:16px;height:16px;border-radius:50%;background:#b2b5d3;"></div>
<div style="position:absolute;left:2680.4px;top:1509.5px;width:16px;height:16px;border-radius:50%;background:#a5e4d9;"></div>
<div style="position:absolute;left:2769.5px;top:1509.5px;width:16px;height:16px;border-radius:50%;background:#57cfb9;"></div>
<div style="position:absolute;left:2858px;top:1509.5px;width:16px;height:16px;border-radius:50%;background:#16b89e;"></div>
<svg style="position:absolute;left:2756.1px;top:1607.9px" width="32" height="32" viewBox="0 0 32 32" fill="none" stroke="#94a3b8" stroke-width="2.6" stroke-linecap="round"><circle cx="16" cy="16" r="13.2"/><path d="M12.3 12.6 A3.8 3.8 0 1 1 17.6 16 C16.5 16.5 16 17.2 16 18.4"/><circle cx="16" cy="22.6" r="0.4" fill="#94a3b8"/></svg>
<div style="position:absolute;left:2416px;top:1661.8px;width:123.5px;height:24px;border-radius:5px;background:#3e4584;"></div>
<div style="position:absolute;left:2544.4px;top:1661.8px;width:641.3px;height:24px;border-radius:5px;background:#8b8fb4;"></div>
<div style="position:absolute;left:3190.5px;top:1661.8px;width:132.9px;height:24px;border-radius:5px;background:#d1d5db;"></div>
<div style="position:absolute;left:3328.2px;top:1661.8px;width:25.3px;height:24px;border-radius:5px;background:#76d5c5;"></div>
<div style="position:absolute;left:3358.4px;top:1661.8px;width:57.4px;height:24px;border-radius:5px;background:#16b89e;"></div>
<div style="position:absolute;left:2416.2px;top:1713.9px;width:16px;height:16px;border-radius:50%;background:#3e4584;"></div>
<div style="position:absolute;left:2503.8px;top:1713.9px;width:16px;height:16px;border-radius:50%;background:#8b8fb4;"></div>
<div style="position:absolute;left:2601.6px;top:1713.9px;width:16px;height:16px;border-radius:50%;background:#d1d5db;"></div>
<div style="position:absolute;left:2685.8px;top:1713.9px;width:16px;height:16px;border-radius:50%;background:#76d5c5;"></div>
<div style="position:absolute;left:2789.9px;top:1713.9px;width:16px;height:16px;border-radius:50%;background:#16b89e;"></div>
<svg style="position:absolute;left:2829.6px;top:1811.3px" width="32" height="32" viewBox="0 0 32 32" fill="none" stroke="#94a3b8" stroke-width="2.6" stroke-linecap="round"><circle cx="16" cy="16" r="13.2"/><path d="M12.3 12.6 A3.8 3.8 0 1 1 17.6 16 C16.5 16.5 16 17.2 16 18.4"/><circle cx="16" cy="22.6" r="0.4" fill="#94a3b8"/></svg>
<div style="position:absolute;left:2416px;top:1865.2px;width:246.6px;height:24px;border-radius:5px;background:#3e4584;"></div>
<div style="position:absolute;left:2667px;top:1865.2px;width:246.7px;height:24px;border-radius:5px;background:#8b8fb4;"></div>
<div style="position:absolute;left:2918px;top:1865.2px;width:246.7px;height:24px;border-radius:5px;background:#76d5c5;"></div>
<div style="position:absolute;left:3169px;top:1865.2px;width:246.8px;height:24px;border-radius:5px;background:#16b89e;"></div>
<div style="position:absolute;left:2416.2px;top:1917.3px;width:16px;height:16px;border-radius:50%;background:#3e4584;"></div>
<div style="position:absolute;left:2483.9px;top:1917.3px;width:16px;height:16px;border-radius:50%;background:#8b8fb4;"></div>
<div style="position:absolute;left:2567.5px;top:1917.3px;width:16px;height:16px;border-radius:50%;background:#76d5c5;"></div>
<div style="position:absolute;left:2651.7px;top:1917.3px;width:16px;height:16px;border-radius:50%;background:#16b89e;"></div>
<svg style="position:absolute;left:2866px;top:2015.7px" width="32" height="32" viewBox="0 0 32 32" fill="none" stroke="#94a3b8" stroke-width="2.6" stroke-linecap="round"><circle cx="16" cy="16" r="13.2"/><path d="M12.3 12.6 A3.8 3.8 0 1 1 17.6 16 C16.5 16.5 16 17.2 16 18.4"/><circle cx="16" cy="22.6" r="0.4" fill="#94a3b8"/></svg>
<div style="position:absolute;left:2416px;top:2069.6px;width:663.6px;height:24px;border-radius:5px;background:#3e4584;"></div>
<div style="position:absolute;left:3084.5px;top:2069.6px;width:279.3px;height:24px;border-radius:5px;background:#8b8fb4;"></div>
<div style="position:absolute;left:3368.1px;top:2069.6px;width:47.7px;height:24px;border-radius:5px;background:#16b89e;"></div>
<div style="position:absolute;left:2370px;top:2094px;width:1114px;height:140px;background:#fff;border-top:2px solid #e5e7eb;border-radius:0 0 22px 0;"></div>
<svg style="position:absolute;left:3372px;top:2146px" width="40" height="40" viewBox="0 0 24 24" fill="none" stroke="#1d4ed8" stroke-width="2.3" stroke-linecap="round" stroke-linejoin="round"><path d="M13.5 4.5 H19.5 V10.5 M19.5 4.5 L11 13 M17 13.5 V18 A2 2 0 0 1 15 20 H6 A2 2 0 0 1 4 18 V9 A2 2 0 0 1 6 7 H10.5"/></svg>
<div class="t" style="top:135.74px;font-size:40px;line-height:40px;font-weight:400;color:#111827;-webkit-text-stroke:1.36px #111827;letter-spacing:1.898px;left:2416.88px;">Characterization details</div>
<div class="t" style="top:273.85px;font-size:29px;line-height:29px;font-weight:400;color:#334155;-webkit-text-stroke:0.35px #334155;letter-spacing:0.772px;left:2416.18px;">Description</div>
<div class="t" style="top:326.45px;font-size:29px;line-height:29px;font-weight:400;color:#475569;letter-spacing:0.448px;left:2416.00px;">During calibration, Carbon Signal identifies the combination of performance</div>
<div class="t" style="top:369.95px;font-size:29px;line-height:29px;font-weight:400;color:#475569;letter-spacing:0.393px;left:2417.00px;">characteristics that best explain your building’s energy use. These charts</div>
<div class="t" style="top:413.45px;font-size:29px;line-height:29px;font-weight:400;color:#475569;letter-spacing:0.471px;left:2418.00px;">show the estimated values and associated model uncertainty.</div>
<div class="t" style="top:480.61px;font-size:30px;line-height:30px;font-weight:400;color:#475569;-webkit-text-stroke:0.87px #475569;letter-spacing:0.375px;left:2463.03px;">More details</div>
<div class="t" style="top:589.61px;font-size:30px;line-height:30px;font-weight:400;color:#334155;-webkit-text-stroke:0.87px #334155;letter-spacing:0.073px;left:2418.43px;">Wall assembly R-value (hr·ft²·°F/Btu)</div>
<div class="t" style="top:690.33px;font-size:24.3px;line-height:24.3px;font-weight:400;color:#475569;left:2445.70px;letter-spacing:0.8px;">5</div>
<div class="t" style="top:690.33px;font-size:24.3px;line-height:24.3px;font-weight:400;color:#475569;left:2512.40px;letter-spacing:0.8px;">10</div>
<div class="t" style="top:690.33px;font-size:24.3px;line-height:24.3px;font-weight:400;color:#475569;left:2592.10px;letter-spacing:0.8px;">20</div>
<div class="t" style="top:690.33px;font-size:24.3px;line-height:24.3px;font-weight:400;color:#475569;left:2675.40px;letter-spacing:0.8px;">30</div>
<div class="t" style="top:793.00px;font-size:30px;line-height:30px;font-weight:400;color:#334155;-webkit-text-stroke:0.87px #334155;letter-spacing:0.119px;left:2416.43px;">Roof assembly R-value (hr·ft²·°F/Btu)</div>
<div class="t" style="top:893.73px;font-size:24.3px;line-height:24.3px;font-weight:400;color:#475569;left:2444.70px;letter-spacing:0.8px;">10</div>
<div class="t" style="top:893.73px;font-size:24.3px;line-height:24.3px;font-weight:400;color:#475569;left:2524.50px;letter-spacing:0.8px;">20</div>
<div class="t" style="top:893.73px;font-size:24.3px;line-height:24.3px;font-weight:400;color:#475569;left:2607.70px;letter-spacing:0.8px;">30</div>
<div class="t" style="top:893.73px;font-size:24.3px;line-height:24.3px;font-weight:400;color:#475569;left:2691.40px;letter-spacing:0.8px;">40</div>
<div class="t" style="top:995.81px;font-size:30px;line-height:30px;font-weight:400;color:#334155;-webkit-text-stroke:0.87px #334155;left:2418.43px;letter-spacing:0.75px;">Window-to-wall ratio (%)</div>
<div class="t" style="top:1096.53px;font-size:24.3px;line-height:24.3px;font-weight:400;color:#475569;left:2444.70px;letter-spacing:0.8px;">75%</div>
<div class="t" style="top:1096.53px;font-size:24.3px;line-height:24.3px;font-weight:400;color:#475569;left:2544.50px;letter-spacing:0.8px;">65%</div>
<div class="t" style="top:1096.53px;font-size:24.3px;line-height:24.3px;font-weight:400;color:#475569;left:2647.10px;letter-spacing:0.8px;">35%</div>
<div class="t" style="top:1200.31px;font-size:30px;line-height:30px;font-weight:400;color:#334155;-webkit-text-stroke:0.87px #334155;letter-spacing:0.241px;left:2418.43px;">Window assembly U-value (Btu/hr·ft²·°F)</div>
<div class="t" style="top:1301.03px;font-size:24.3px;line-height:24.3px;font-weight:400;color:#475569;left:2444.70px;letter-spacing:0.8px;">1.0</div>
<div class="t" style="top:1301.03px;font-size:24.3px;line-height:24.3px;font-weight:400;color:#475569;left:2529.40px;letter-spacing:0.8px;">0.7</div>
<div class="t" style="top:1301.03px;font-size:24.3px;line-height:24.3px;font-weight:400;color:#475569;left:2617.50px;letter-spacing:0.8px;">0.4</div>
<div class="t" style="top:1301.03px;font-size:24.3px;line-height:24.3px;font-weight:400;color:#475569;left:2707.50px;letter-spacing:0.8px;">0.2</div>
<div class="t" style="top:1404.61px;font-size:30px;line-height:30px;font-weight:400;color:#334155;-webkit-text-stroke:0.87px #334155;letter-spacing:-0.691px;left:2418.43px;">Window SHGC</div>
<div class="t" style="top:1505.33px;font-size:24.3px;line-height:24.3px;font-weight:400;color:#475569;left:2445.70px;letter-spacing:0.8px;">0.8</div>
<div class="t" style="top:1505.33px;font-size:24.3px;line-height:24.3px;font-weight:400;color:#475569;left:2533.30px;letter-spacing:0.8px;">0.6</div>
<div class="t" style="top:1505.33px;font-size:24.3px;line-height:24.3px;font-weight:400;color:#475569;left:2621.40px;letter-spacing:0.8px;">0.5</div>
<div class="t" style="top:1505.33px;font-size:24.3px;line-height:24.3px;font-weight:400;color:#475569;left:2709.90px;letter-spacing:0.8px;">0.4</div>
<div class="t" style="top:1505.33px;font-size:24.3px;line-height:24.3px;font-weight:400;color:#475569;left:2799.00px;letter-spacing:0.8px;">0.3</div>
<div class="t" style="top:1505.33px;font-size:24.3px;line-height:24.3px;font-weight:400;color:#475569;left:2887.50px;letter-spacing:0.8px;">0.2</div>
<div class="t" style="top:1609.01px;font-size:30px;line-height:30px;font-weight:400;color:#334155;-webkit-text-stroke:0.87px #334155;letter-spacing:0.567px;left:2416.43px;">Infiltration rate (CFM/ft²)</div>
<div class="t" style="top:1709.73px;font-size:24.3px;line-height:24.3px;font-weight:400;color:#475569;left:2445.70px;letter-spacing:0.8px;">0.3</div>
<div class="t" style="top:1709.73px;font-size:24.3px;line-height:24.3px;font-weight:400;color:#475569;left:2533.30px;letter-spacing:0.8px;">0.15</div>
<div class="t" style="top:1709.73px;font-size:24.3px;line-height:24.3px;font-weight:400;color:#475569;left:2631.10px;letter-spacing:0.8px;">0.1</div>
<div class="t" style="top:1709.73px;font-size:24.3px;line-height:24.3px;font-weight:400;color:#475569;left:2715.30px;letter-spacing:0.8px;">0.08</div>
<div class="t" style="top:1709.73px;font-size:24.3px;line-height:24.3px;font-weight:400;color:#475569;left:2819.40px;letter-spacing:0.8px;">0.05</div>
<div class="t" style="top:1812.40px;font-size:30px;line-height:30px;font-weight:400;color:#334155;-webkit-text-stroke:0.87px #334155;letter-spacing:0.609px;left:2416.43px;">Lighting power density (W/ft²)</div>
<div class="t" style="top:1913.13px;font-size:24.3px;line-height:24.3px;font-weight:400;color:#475569;left:2445.70px;letter-spacing:0.8px;">4</div>
<div class="t" style="top:1913.13px;font-size:24.3px;line-height:24.3px;font-weight:400;color:#475569;left:2512.40px;letter-spacing:0.8px;">1.6</div>
<div class="t" style="top:1913.13px;font-size:24.3px;line-height:24.3px;font-weight:400;color:#475569;left:2596.00px;letter-spacing:0.8px;">1.2</div>
<div class="t" style="top:1913.13px;font-size:24.3px;line-height:24.3px;font-weight:400;color:#475569;left:2681.20px;letter-spacing:0.8px;">0.9</div>
<div class="t" style="top:2016.81px;font-size:30px;line-height:30px;font-weight:400;color:#334155;-webkit-text-stroke:0.87px #334155;letter-spacing:0.511px;left:2416.43px;">Equipment power density (W/ft²)</div>
<div class="t" style="top:2150.61px;font-size:30px;line-height:30px;font-weight:400;color:#1d4ed8;-webkit-text-stroke:0.87px #1d4ed8;letter-spacing:0.346px;left:3123.24px;">Model refinement</div>
<div style="position:absolute;left:2732px;top:861px;width:420px;height:181px;border:1px solid #eceef2;border-radius:14px;background:#fff;box-shadow:0 8px 20px rgba(15,23,42,0.10),0 2px 5px rgba(15,23,42,0.05);"></div>
<div class="t" style="top:892.13px;font-size:24.3px;line-height:24.3px;font-weight:400;color:#475569;letter-spacing:0.044px;left:2755.00px;">Value</div>
<div class="t" style="top:892.13px;font-size:24.3px;line-height:24.3px;font-weight:400;color:#334155;-webkit-text-stroke:0.29px #334155;right:390.50px;letter-spacing:0.6px;">35%</div>
<div class="t" style="top:939.43px;font-size:24.3px;line-height:24.3px;font-weight:400;color:#475569;letter-spacing:0.328px;left:2755.00px;">Value range</div>
<div class="t" style="top:939.43px;font-size:24.3px;line-height:24.3px;font-weight:400;color:#334155;-webkit-text-stroke:0.29px #334155;letter-spacing:0.566px;right:389.93px;letter-spacing:0.6px;">25% to 40%</div>
<div class="t" style="top:988.03px;font-size:24.3px;line-height:24.3px;font-weight:400;color:#475569;letter-spacing:0.601px;left:2753.00px;">Probability</div>
<div class="t" style="top:988.03px;font-size:24.3px;line-height:24.3px;font-weight:400;color:#334155;-webkit-text-stroke:0.29px #334155;right:390.50px;letter-spacing:0.6px;">62%%</div>
<svg style="position:absolute;left:2920px;top:1047px" width="44" height="50" viewBox="0 0 44 50"><path d="M10 5 L10 36.5 L17.2 29.6 L22.4 41.2 L27.6 38.9 L22.6 27.6 L32.6 27.6 Z" fill="#000" stroke="#fff" stroke-width="2.4" stroke-linejoin="round"/></svg>
</body></html>
